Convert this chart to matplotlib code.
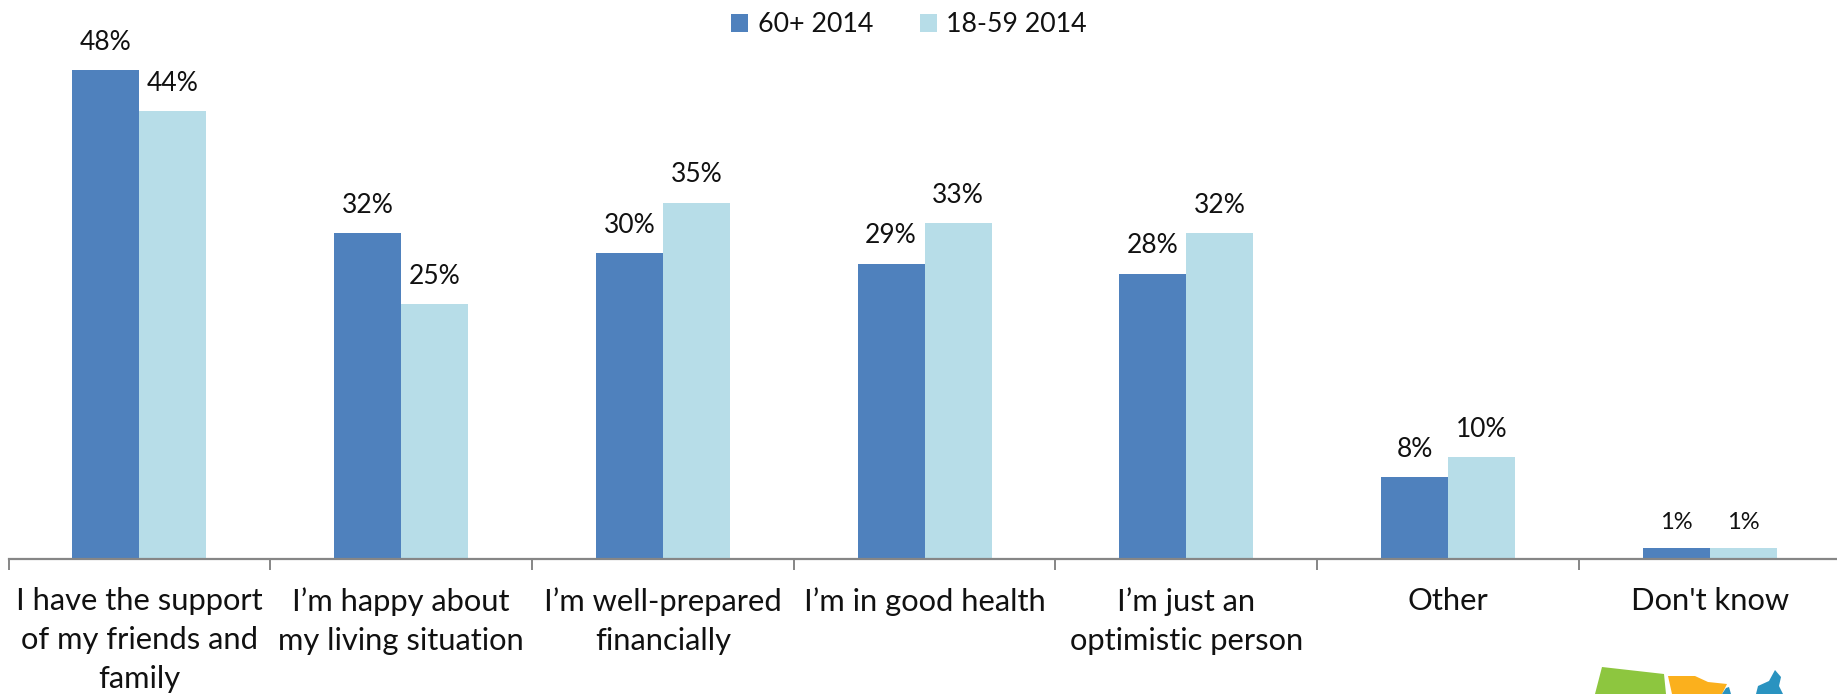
# grouped bar chart: sources of optimism, 60+ vs 18-59
import matplotlib
matplotlib.use('Agg')
import matplotlib.pyplot as plt
import numpy as np
from matplotlib.patches import Polygon

plt.rcParams['font.family'] = ['Lato', 'DejaVu Sans']

categories = ["I have the support\nof my friends and\nfamily",
              "I\u2019m happy about\nmy living situation",
              "I\u2019m well-prepared\nfinancially",
              "I\u2019m in good health",
              "I\u2019m just an\noptimistic person",
              "Other",
              "Don't know"]
older = [48, 32, 30, 29, 28, 8, 1]
younger = [44, 25, 35, 33, 32, 10, 1]
series_names = ['60+ 2014', '18-59 2014']

# logo scraps in the bottom right corner, figure pixels (y from top)
logo_green = [(1595, 694), (1602, 667), (1664, 674), (1666, 694)]
logo_orange = [(1668, 676), (1695, 676), (1708, 682), (1727, 684), (1722, 694), (1672, 694)]
logo_blue = [(1756, 694), (1758, 686), (1769, 681), (1775, 670), (1781, 677), (1779, 686), (1783, 694)]
logo_blue2 = [(1722, 694), (1726, 688), (1729, 687), (1731, 694)]

W, H = 1837, 694
BLUE = '#4F81BD'
LIGHT = '#B7DDE8'
AXIS = '#868686'
left, base, cat_w = 8.6, 558.5, 261.7
px_per_pct = 10.17

fig = plt.figure(figsize=(W / 100, H / 100), dpi=100)
ax = fig.add_axes([left / W, (H - base) / H, cat_w * 7 / W, base / H])
ax.set_xlim(0, 7)
ax.set_ylim(0, base / px_per_pct)

x = np.arange(len(categories)) + 0.5
bar_w = 0.256
b1 = ax.bar(x - bar_w / 2, older, bar_w, color=BLUE, label=series_names[0])
b2 = ax.bar(x + bar_w / 2, younger, bar_w, color=LIGHT, label=series_names[1])

for bars, vals in [(b1, older), (b2, younger)]:
    for r, v in zip(bars, vals):
        size = 19 if v > 1 else 17
        ax.annotate(f'{v}%', (r.get_x() + r.get_width() / 2, v), xytext=(0, 11),
                    textcoords='offset points', ha='center', va='bottom',
                    fontsize=size, color='#111111')

for s in ['top', 'left', 'right']:
    ax.spines[s].set_visible(False)
ax.spines['bottom'].set_color(AXIS)
ax.spines['bottom'].set_linewidth(1.6)
ax.set_yticks([])

ax.set_xticks(np.arange(0, 8))
ax.set_xticklabels([])
ax.tick_params(axis='x', which='major', length=8, width=1.4, color=AXIS)
ax.set_xticks(x, minor=True)
ax.set_xticklabels(categories, minor=True, fontsize=22.2, color='#111111', linespacing=1.47)
ax.tick_params(axis='x', which='minor', length=0, pad=20.8)

fig.legend(loc='upper left', bbox_to_anchor=(707 / W, 1.017), ncol=2, frameon=False,
           fontsize=19.3, handlelength=0.63, handleheight=0.63, handletextpad=0.36,
           columnspacing=1.75, labelcolor='#111111')

for pts, col in [(logo_green, '#8DC63F'), (logo_orange, '#FBB01D'),
                 (logo_blue, '#2A93C0'), (logo_blue2, '#2A93C0')]:
    fig.add_artist(Polygon([(px / W, 1 - py / H) for px, py in pts], closed=True,
                           transform=fig.transFigure, facecolor=col, edgecolor='none'))

fig.savefig('out.png', dpi=100)
